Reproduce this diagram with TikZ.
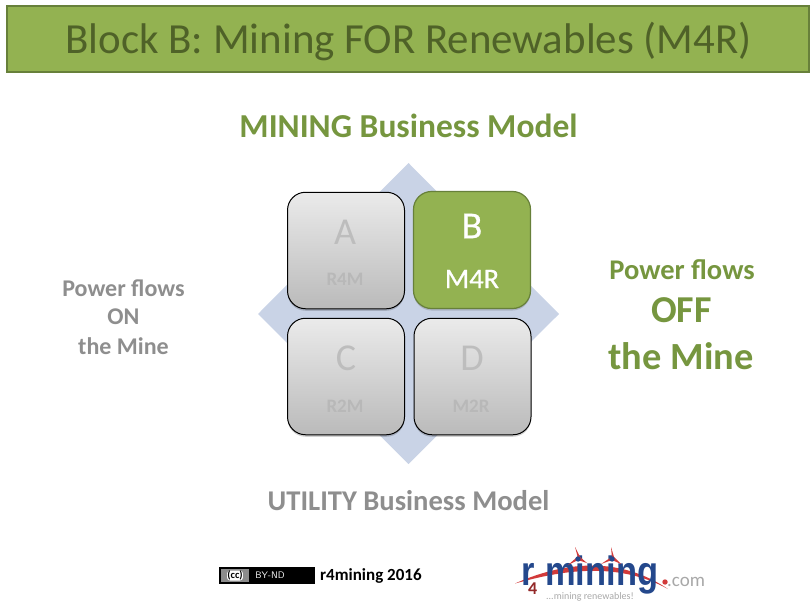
\documentclass[tikz,border=0pt]{standalone}
\usepackage{fontspec}
\setmainfont{Carlito}
\newfontfamily\logofont[FakeStretch=0.84]{Liberation Sans}
\newfontfamily\fatfont[FakeBold=0.6]{Carlito}
\usetikzlibrary{shapes.geometric,shadows}
\definecolor{bargreen}{HTML}{93B251}
\definecolor{barline}{HTML}{67803A}
\definecolor{titletxt}{HTML}{4F6228}
\definecolor{headgreen}{HTML}{76963F}
\definecolor{headgrey}{HTML}{8E8E8E}
\definecolor{diam}{HTML}{C9D3E6}
\definecolor{faint}{HTML}{BDBDBD}
\definecolor{logoblue}{HTML}{24488C}
\definecolor{logored}{HTML}{D23A3A}
\definecolor{logogrey}{HTML}{A8A8A8}
\tikzset{
  x=1pt,y=-1pt,
  greybox/.style={draw=black,line width=1pt,rounded corners=18pt,top color=black!8,bottom color=black!27,minimum width=117pt,minimum height=116.5pt,inner sep=0pt,drop shadow={shadow xshift=0pt,shadow yshift=-2pt,opacity=.18,fill=black}},
  greenbox/.style={draw=barline,line width=1.2pt,rounded corners=18pt,fill=bargreen,minimum width=117pt,minimum height=117pt,inner sep=0pt,drop shadow={shadow xshift=0pt,shadow yshift=-2pt,opacity=.15,fill=black}},
  bigl/.style={font=\fontsize{38}{38}\selectfont,text=faint,inner sep=0pt},
  smalll/.style={font=\bfseries\fontsize{19}{19}\selectfont,text=black!28,inner sep=0pt},
  head/.style={inner sep=0pt},
  side/.style={font=\bfseries\fontsize{24}{24}\selectfont,inner sep=0pt},
}
\begin{document}
\begin{tikzpicture}
\useasboundingbox (0,0) rectangle (810,610);
\node[draw=barline,line width=1.4pt,fill=bargreen,minimum width=802pt,minimum height=66pt,inner sep=0pt] (bar) at (408,39) {};
\node[font=\fontsize{42.9}{42.9}\selectfont,text=titletxt,inner sep=0pt] (title) at (408.5,41.5) {Block B: Mining FOR Renewables (M4R)};
\node[head,font=\bfseries\fontsize{33.5}{33.5}\selectfont,text=headgreen] (mining) at (408.5,126) {MINING Business Model};
\node[head,font=\bfseries\fontsize{28.6}{28.6}\selectfont,text=headgrey] (utility) at (408.5,501) {UTILITY Business Model};
\node[side,text=headgrey] (on1) at (123.5,288) {Power flows};
\node[side,text=headgrey] (on2) at (123.5,317) {ON};
\node[side,text=headgrey] (on3) at (123.5,346) {the Mine};
\node[side,font=\bfseries\fontsize{28.5}{28.5}\selectfont,text=headgreen] (off1) at (682,270) {Power flows};
\node[side,font=\bfseries\fontsize{38}{38}\selectfont,text=headgreen] (off2) at (681.5,310) {OFF};
\node[side,font=\bfseries\fontsize{38.4}{38.4}\selectfont,text=headgreen] (off3) at (681,356) {the Mine};
\path[fill=diam] (408.5,163) -- (559,314) -- (408.5,464) -- (258,314) -- cycle;
\node[greybox] (A) at (346,250.5) {};
\node[greenbox] (B) at (472,250) {};
\node[greybox] (C) at (346,376.5) {};
\node[greybox] (D) at (472.5,376.5) {};
\node[bigl] (Al) at (345,232) {A};
\node[smalll] (As) at (345,279) {R4M};
\node[font=\fatfont\fontsize{38}{38}\selectfont,text=white,inner sep=0pt] (Bl) at (472,226) {B};
\node[font=\fatfont\fontsize{28.5}{28.5}\selectfont,text=white,inner sep=0pt] (Bs) at (472,279) {M4R};
\node[bigl] (Cl) at (346,358) {C};
\node[smalll] (Cs) at (345,406) {R2M};
\node[bigl] (Dl) at (472,358) {D};
\node[smalll] (Ds) at (471,406) {M2R};
% licence badge
\path[draw=black,line width=1pt,fill=black] (219.5,567.5) rectangle (314.5,583.5);
\path[fill=black!45] (221,569) rectangle (249,582);
\node[font=\bfseries\fontsize{10.5}{10.5}\selectfont,text=black,inner sep=.3pt,fill=white,rounded corners=3pt] (cc) at (235,575.5) {(cc)};
\node[font=\sffamily\fontsize{9.5}{9.5}\selectfont,text=white,inner sep=0pt] (by) at (270,575.5) {BY-ND};
\node[font=\bfseries\fontsize{17}{17}\selectfont,inner sep=0pt,anchor=west] (r4) at (320,576) {r4mining 2016};
% logo
\fill[logored] (515,583.5) .. controls (550,568) and (610,550) .. (668,589) .. controls (612,558) and (550,574) .. cycle;
\node[font=\logofont\bfseries\fontsize{41}{41}\selectfont,text=logoblue,inner sep=0pt,anchor=base west] (lr) at (521,585) {r};
\node[font=\logofont\bfseries\fontsize{41}{41}\selectfont,text=logoblue,inner sep=0pt,anchor=base west] (lm) at (545,585) {mining};
\node[font=\bfseries\fontsize{18}{18}\selectfont,text=logored!70!black,inner sep=0pt,anchor=base west] (l4) at (528,594) {4};
\fill[logored] (578,558) -- (575,547) -- (580,557) -- (587,563) -- (578,560) -- (568,565) -- (576,558) -- cycle;
\fill[logored] (612,558) -- (611,547) -- (614,557) -- (621,564) -- (612,560) -- (601,564) -- (610,558) -- cycle;
\fill[logoblue] (578,559) circle (2.7) (612,559) circle (2.7);
\fill[logored] (665,582) circle (2.7);
\node[font=\fontsize{19}{19}\selectfont,text=logogrey,inner sep=0pt,anchor=base west] (lc) at (667,586) {.com};
\node[font=\fontsize{10}{10}\selectfont,text=logogrey,inner sep=0pt,anchor=base west] (ls) at (546,599) {...mining renewables!};
\end{tikzpicture}
\end{document}
